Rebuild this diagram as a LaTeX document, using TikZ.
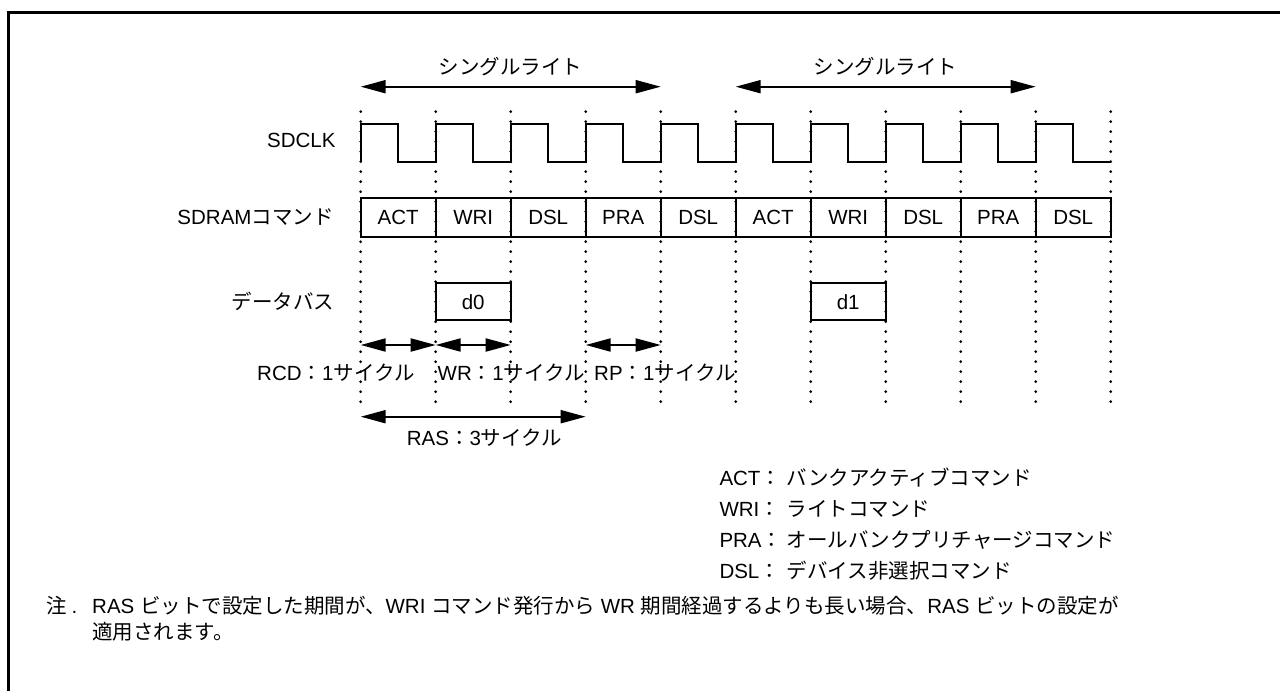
\documentclass[tikz,border=0pt]{standalone}
\usepackage{fontspec}
\setmainfont{Liberation Sans}
\newfontfamily\jp{Noto Sans CJK JP}
\usetikzlibrary{arrows.meta}
\begin{document}
\begin{tikzpicture}[x=1pt,y=-1pt,
  every node/.style={inner sep=0pt, font=\fontsize{20.5}{24}\selectfont},
  txt/.style={anchor=center},
  txtw/.style={anchor=west},
  gridline/.style={line width=3pt, dash pattern=on 0pt off 10pt, line cap=round},
  wave/.style={line width=2pt, line join=miter},
  cell/.style={draw, line width=2pt, minimum width=75pt, minimum height=38.4pt},
  dbox/.style={draw, line width=2pt, minimum width=75pt, minimum height=36.7pt},
  dimarrow/.style={line width=2pt, {Triangle[length=25pt,width=13pt]}-{Triangle[length=25pt,width=13pt]}},
]
\useasboundingbox (0,0) rectangle (1280,691);
% frame
\draw[line width=3pt] (8.2,691) -- (8.2,12.8) -- (1280,12.8);

% clock edge grid
\foreach \i in {0,...,10} {
  \coordinate (t\i) at (360.7+75*\i,111.7);
  \coordinate (b\i) at (360.7+75*\i,411.7);
  \draw[gridline] (t\i) -- (b\i);
}

% clock
\draw[wave] (360.7,161.7) \foreach \i in {0,...,9} { -- ++(0,-37.4) -- ++(37.5,0) -- ++(0,37.4) -- ++(37.5,0) };

% single write arrows
\coordinate (sa1) at (360.7,86.7);
\coordinate (sb1) at (660.7,86.7);
\coordinate (sa2) at (735.7,86.7);
\coordinate (sb2) at (1035.7,86.7);
\draw[dimarrow] (sa1) -- (sb1);
\draw[dimarrow] (sa2) -- (sb2);
\node[txt] (sw1) at (510.7,66.7) {\jp シングルライト};
\node[txt] (sw2) at (885.7,66.7) {\jp シングルライト};

% row labels
\node[txt] (lclk) at (301.3,140) {SDCLK};
\node[txt] (lcmd) at (255.5,217.5) {SDRAM{\jp コマンド}};
\node[txt] (ldat) at (282.8,301.7) {\jp データバス};

% command cells
\foreach \i/\c in {0/ACT,1/WRI,2/DSL,3/PRA,4/DSL,5/ACT,6/WRI,7/DSL,8/PRA,9/DSL} {
  \node[cell] (c\i) at (398.2+75*\i,217.5) {\c};
}

% data boxes
\node[dbox] (d0) at (473.2,301.7) {d0};
\node[dbox] (d1) at (848.2,301.7) {d1};

% timing arrows
\coordinate (r0) at (360.7,345);
\coordinate (r1) at (435.7,345);
\coordinate (r2) at (510.7,345);
\coordinate (r3) at (585.7,345);
\coordinate (r4) at (660.7,345);
\draw[dimarrow] (r0) -- (r1);
\draw[dimarrow] (r1) -- (r2);
\draw[dimarrow] (r3) -- (r4);
\coordinate (ras0) at (360.7,416.7);
\coordinate (ras1) at (585.7,416.7);
\draw[dimarrow] (ras0) -- (ras1);

\node[txtw] (lrcd) at (257,372.5) {RCD{\jp ：}1{\jp サイクル}};
\node[txtw] (lwr) at (437.5,372.5) {WR{\jp ：}1{\jp サイクル}};
\node[txtw] (lrp) at (594,372.5) {RP{\jp ：}1{\jp サイクル}};
\node[txtw] (lras) at (406.7,438) {RAS{\jp ：}3{\jp サイクル}};

% legend
\node[txtw] (k1) at (719.3,478) {ACT{\jp ：}};
\node[txtw] (v1) at (786.7,478) {\jp バンクアクティブコマンド};
\node[txtw] (k2) at (719.3,509) {WRI{\jp ：}};
\node[txtw] (v2) at (786.7,509) {\jp ライトコマンド};
\node[txtw] (k3) at (719.3,540) {PRA{\jp ：}};
\node[txtw] (v3) at (786.7,540) {\jp オールバンクプリチャージコマンド};
\node[txtw] (k4) at (719.3,571) {DSL{\jp ：}};
\node[txtw] (v4) at (786.7,571) {\jp デバイス非選択コマンド};

% note
\node[txtw] (n0) at (46,606) {{\jp 注}\hspace{5pt}.};
\node[txtw] (n1) at (92,606) {RAS {\jp ビットで設定した期間が、}WRI {\jp コマンド発行から} WR {\jp 期間経過するよりも長い場合、}RAS {\jp ビットの設定が}};
\node[txtw] (n2) at (92,632) {\jp 適用されます。};
\end{tikzpicture}
\end{document}
